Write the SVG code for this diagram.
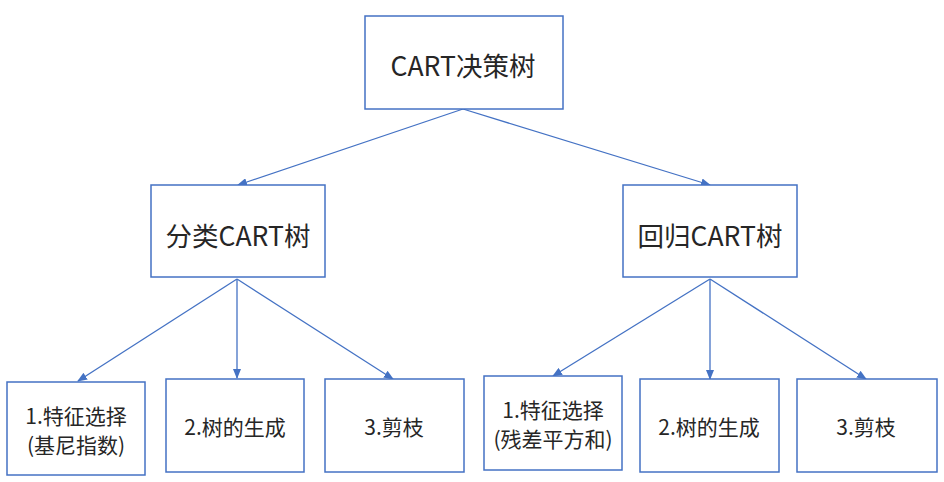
<svg xmlns="http://www.w3.org/2000/svg" width="944" height="482" viewBox="0 0 944 482">
<style>
.box{fill:#ffffff;stroke:#4472C4;stroke-width:1.5}
.t{font-family:"Noto Sans CJK SC","Noto Sans",sans-serif;fill:#262626;text-anchor:middle;dominant-baseline:central}
.big{font-size:26.5px}
.small{font-size:21px}
.c{stroke:#4472C4;stroke-width:1.3;fill:none;marker-end:url(#ah)}
</style>
<defs>
<marker id="ah" markerWidth="10" markerHeight="8" refX="9" refY="4" orient="auto" markerUnits="userSpaceOnUse">
<path d="M0,0 L10,4 L0,8 Z" fill="#4472C4"/>
</marker>
</defs>
<rect width="944" height="482" fill="#ffffff"/>
<g id="connectors">
<line class="c" x1="463" y1="109" x2="238" y2="185"/>
<line class="c" x1="463" y1="109" x2="710" y2="185"/>
<line class="c" x1="237" y1="279" x2="78" y2="381"/>
<line class="c" x1="237" y1="279" x2="237" y2="378"/>
<line class="c" x1="237" y1="279" x2="393" y2="379"/>
<line class="c" x1="710" y1="279" x2="553" y2="376"/>
<line class="c" x1="710" y1="279" x2="710" y2="379"/>
<line class="c" x1="710" y1="279" x2="866" y2="379"/>
</g>
<g id="root"><rect class="box" x="365" y="16" width="198" height="93"/><text class="t big" x="463" y="64">CART决策树</text></g>
<g id="cls"><rect class="box" x="151" y="185" width="174" height="92"/><text class="t big" x="238" y="234">分类CART树</text></g>
<g id="reg"><rect class="box" x="623" y="185" width="174" height="92"/><text class="t big" x="710" y="234">回归CART树</text></g>
<g id="c1"><rect class="box" x="7" y="382" width="138" height="93"/><text class="t small" x="76" y="415">1.特征选择</text><text class="t small" x="76" y="444">(基尼指数)</text></g>
<g id="c2"><rect class="box" x="166" y="379" width="138" height="93"/><text class="t small" x="235" y="426">2.树的生成</text></g>
<g id="c3"><rect class="box" x="325" y="379" width="139" height="93"/><text class="t small" x="394" y="426">3.剪枝</text></g>
<g id="r1"><rect class="box" x="484" y="376" width="138" height="94"/><text class="t small" x="553" y="409">1.特征选择</text><text class="t small" x="553" y="438">(残差平方和)</text></g>
<g id="r2"><rect class="box" x="640" y="379" width="139" height="93"/><text class="t small" x="709" y="426">2.树的生成</text></g>
<g id="r3"><rect class="box" x="797" y="379" width="140" height="93"/><text class="t small" x="866" y="426">3.剪枝</text></g>
</svg>
